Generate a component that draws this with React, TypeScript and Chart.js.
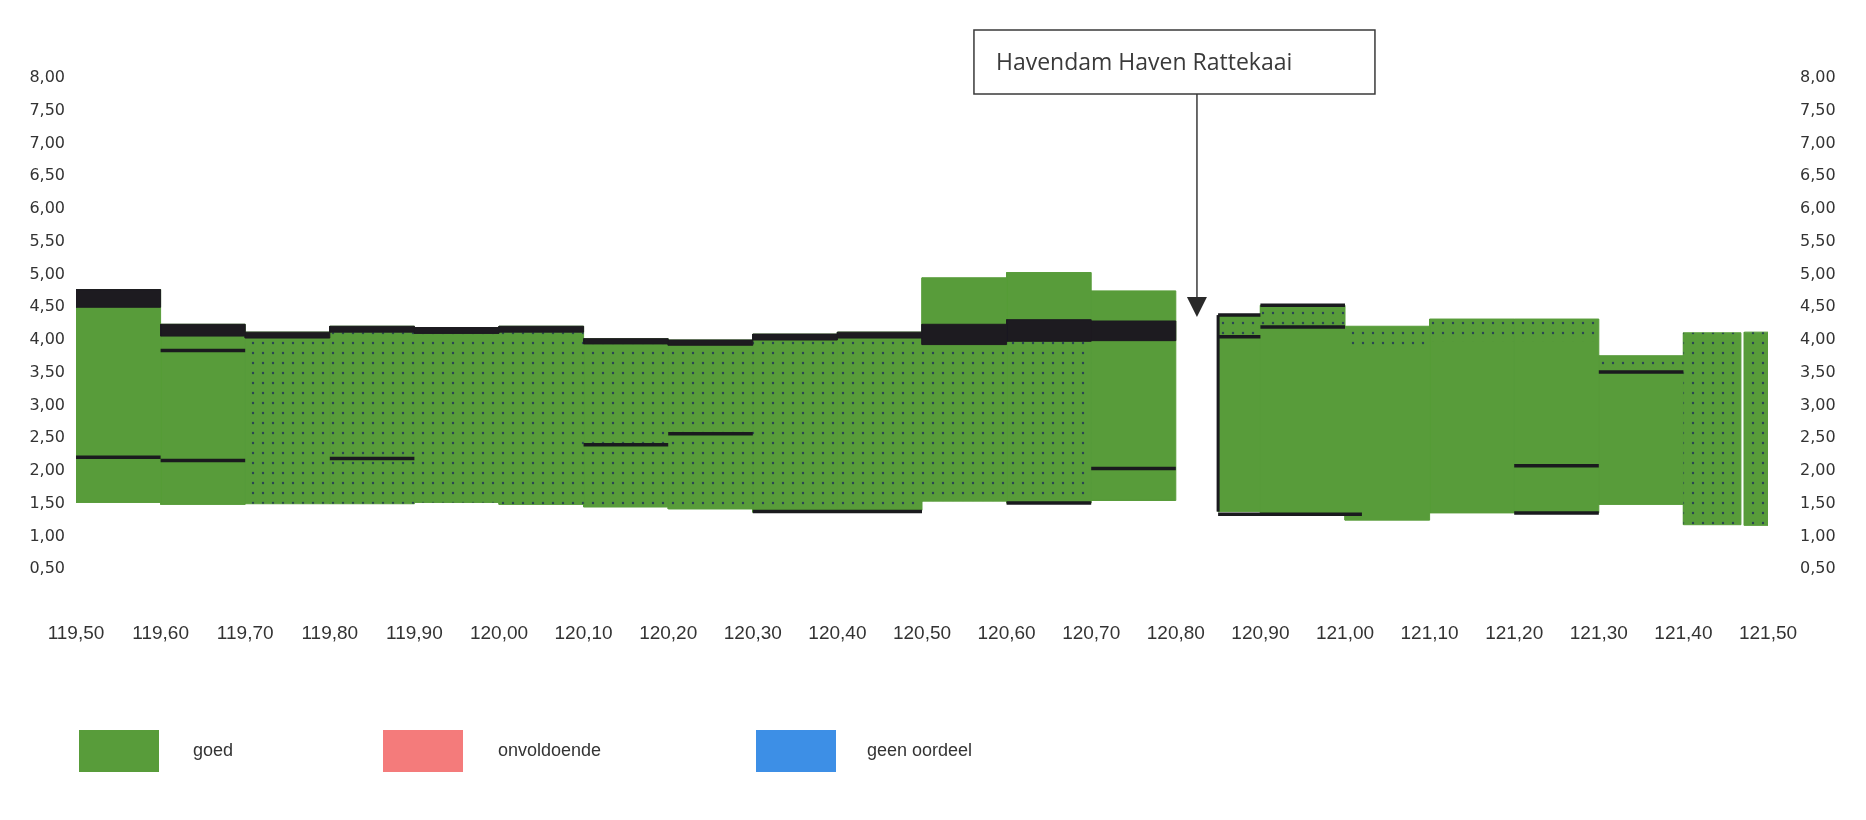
import React, { useEffect, useRef } from 'react';
import { Chart, registerables } from 'chart.js';

Chart.register(...registerables);

// ---- data (km = hectometre position, levels in m) ----
const xTicks = [119.5, 119.6, 119.7, 119.8, 119.9, 120.0, 120.1, 120.2, 120.3, 120.4, 120.5, 120.6, 120.7, 120.8, 120.9, 121.0, 121.1, 121.2, 121.3, 121.4, 121.5];

const segStart = [119.50, 119.60, 119.70, 119.80, 119.90, 120.00, 120.10, 120.20, 120.30, 120.40, 120.50, 120.60, 120.70, 120.85, 120.90, 121.00, 121.10, 121.20, 121.30, 121.40, 121.472];
const segEnd = [119.60, 119.70, 119.80, 119.90, 120.00, 120.10, 120.20, 120.30, 120.40, 120.50, 120.60, 120.70, 120.80, 120.90, 121.00, 121.10, 121.20, 121.30, 121.40, 121.468, 121.50];
const segBottom = [1.52, 1.49, 1.50, 1.50, 1.52, 1.49, 1.45, 1.42, 1.37, 1.40, 1.54, 1.51, 1.55, 1.38, 1.35, 1.25, 1.36, 1.36, 1.49, 1.18, 1.17];
const segTop = [4.77, 4.24, 4.12, 4.21, 4.19, 4.21, 4.02, 4.00, 4.09, 4.12, 4.95, 5.03, 4.75, 4.38, 4.53, 4.21, 4.32, 4.32, 3.76, 4.11, 4.12];

// dark band (black layer)
const bandLow: (number | null)[] = [4.50, 4.06, 4.03, 4.12, 4.10, 4.12, 3.94, 3.92, 4.00, 4.03, 3.93, 3.98, 3.99, null, null, null, null, null, null, null, null];
const bandHigh: (number | null)[] = [4.77, 4.24, 4.12, 4.21, 4.19, 4.21, 4.02, 4.00, 4.09, 4.12, 4.24, 4.31, 4.29, null, null, null, null, null, null, null, null];

// dotted layer
const dotLow: (number | null)[] = [null, null, 1.50, 1.50, 1.52, 1.49, 1.45, 1.42, 1.37, 1.40, 1.54, 1.51, null, 4.05, 4.20, 3.85, 3.98, 3.98, 3.51, 1.18, 1.17];
const dotHigh: (number | null)[] = [null, null, 4.03, 4.12, 4.10, 4.12, 3.94, 3.92, 4.00, 4.03, 3.93, 3.98, null, 4.38, 4.53, 4.21, 4.32, 4.32, 3.76, 4.11, 4.12];

// black horizontal marker lines
const lineStart = [119.50, 119.60, 119.60, 119.80, 120.10, 120.20, 120.70, 120.85, 120.90, 121.20, 121.30, 120.30, 120.60, 120.85, 121.20, 120.85, 120.90];
const lineEnd = [119.60, 119.70, 119.70, 119.90, 120.20, 120.30, 120.80, 120.90, 121.00, 121.30, 121.40, 120.50, 120.70, 121.02, 121.30, 120.90, 121.00];
const lineLevel = [2.21, 2.16, 3.84, 2.19, 2.40, 2.57, 2.04, 4.05, 4.20, 2.08, 3.51, 1.38, 1.51, 1.34, 1.36, 4.38, 4.53];

// vertical edge line
const edgeX = [120.85];
const edgeLow = [1.38];
const edgeHigh = [4.38];

const annotationText = 'Havendam Haven Rattekaai';
const arrowX = 120.825;
const arrowY = 4.35;

const legendLabels = ['goed', 'onvoldoende', 'geen oordeel'];
const legendColors = ['#589c3a', '#f47b7b', '#3d8fe6'];

const GREEN = '#589c3a';
const BAND = '#1d1b20';
const LINE = '#1a1a1e';

const fmt = (v: number) => v.toFixed(2).replace('.', ',');

function rect(x0: number, x1: number, y0: number, y1: number) {
  return [
    { x: x0, y: y0 },
    { x: x1, y: y0 },
    { x: x1, y: y1 },
    { x: x0, y: y1 },
    { x: x0, y: y0 },
  ];
}

const annotationPlugin = {
  id: 'annot',
  afterDatasetsDraw(chart: any) {
    const ctx = chart.ctx;
    const xs = chart.scales.x;
    const ys = chart.scales.y;
    const ax = xs.getPixelForValue(arrowX);
    const ay = ys.getPixelForValue(arrowY);
    const left = ax - 223;
    const top = 22;
    const w = 401;
    const h = 64;
    ctx.save();
    ctx.fillStyle = '#ffffff';
    ctx.fillRect(left, top, w, h);
    ctx.strokeStyle = '#3a3a3a';
    ctx.lineWidth = 1.5;
    ctx.strokeRect(left, top, w, h);
    ctx.fillStyle = '#3a3a3a';
    ctx.font = '23px "Open Sans", sans-serif';
    ctx.textBaseline = 'middle';
    ctx.textAlign = 'left';
    ctx.fillText(annotationText, left + 22, top + h / 2 + 1);
    ctx.beginPath();
    ctx.moveTo(ax, top + h);
    ctx.lineTo(ax, ay - 18);
    ctx.lineWidth = 1.5;
    ctx.stroke();
    ctx.beginPath();
    ctx.moveTo(ax - 10, ay - 20);
    ctx.lineTo(ax + 10, ay - 20);
    ctx.lineTo(ax, ay);
    ctx.closePath();
    ctx.fillStyle = '#2a2a2a';
    ctx.fill();
    ctx.restore();
  },
};

export default function App() {
  const ref = useRef<HTMLCanvasElement>(null);

  useEffect(() => {
    const canvas = ref.current!;
    const pc = document.createElement('canvas');
    pc.width = 10;
    pc.height = 10;
    const pctx = pc.getContext('2d')!;
    pctx.fillStyle = 'rgba(35,60,85,0.9)';
    pctx.beginPath();
    pctx.arc(5, 5, 1.2, 0, Math.PI * 2);
    pctx.fill();
    const pattern = canvas.getContext('2d')!.createPattern(pc, 'repeat')!;

    const base = { pointRadius: 0, pointHoverRadius: 0, tension: 0, fill: 'shape' };
    const datasets: any[] = [];
    segStart.forEach((s, i) => {
      datasets.push({
        ...base,
        label: 'goed',
        data: rect(s, segEnd[i], segBottom[i], segTop[i]),
        backgroundColor: GREEN,
        borderColor: GREEN,
        borderWidth: 1,
        order: 5,
      });
      if (dotLow[i] != null && dotHigh[i] != null) {
        datasets.push({
          ...base,
          label: 'dots',
          data: rect(s, segEnd[i], dotLow[i] as number, dotHigh[i] as number),
          backgroundColor: pattern,
          borderColor: 'rgba(0,0,0,0)',
          borderWidth: 1,
          order: 4,
        });
      }
      if (bandLow[i] != null && bandHigh[i] != null) {
        datasets.push({
          ...base,
          label: 'band',
          data: rect(s, segEnd[i], bandLow[i] as number, bandHigh[i] as number),
          backgroundColor: BAND,
          borderColor: BAND,
          borderWidth: 1,
          order: 3,
        });
      }
    });
    lineStart.forEach((s, i) => {
      datasets.push({
        label: 'line',
        data: [
          { x: s, y: lineLevel[i] },
          { x: lineEnd[i], y: lineLevel[i] },
        ],
        borderColor: LINE,
        borderWidth: 3.5,
        pointRadius: 0,
        fill: false,
        order: 1,
      });
    });
    edgeX.forEach((x, i) => {
      datasets.push({
        label: 'edge',
        data: [
          { x, y: edgeLow[i] },
          { x, y: edgeHigh[i] },
        ],
        borderColor: LINE,
        borderWidth: 3,
        pointRadius: 0,
        fill: false,
        order: 1,
      });
    });

    const yTickFont = { family: '"DejaVu Sans", sans-serif', size: 16 };
    const chart = new Chart(canvas, {
      type: 'line',
      data: { datasets },
      plugins: [annotationPlugin],
      options: {
        animation: false,
        responsive: false,
        events: [],
        layout: { padding: { top: 70, left: 0, right: 0, bottom: 0 } },
        plugins: {
          legend: { display: false },
          tooltip: { enabled: false },
        },
        scales: {
          x: {
            type: 'linear',
            min: 119.5,
            max: 121.5,
            afterBuildTicks: (scale: any) => {
              scale.ticks = xTicks.map((v) => ({ value: v }));
            },
            afterFit: (scale: any) => {
              scale.height = 210;
            },
            grid: { display: false, drawTicks: false },
            border: { display: false },
            ticks: {
              autoSkip: false,
              maxRotation: 0,
              minRotation: 0,
              padding: 20,
              color: '#333',
              font: { family: '"Liberation Sans", Arial, sans-serif', size: 19 },
              callback: (v: any) => fmt(Number(v)),
            },
          },
          y: {
            type: 'linear',
            position: 'left',
            min: 0,
            max: 8,
            afterFit: (scale: any) => {
              scale.width = 68;
            },
            grid: { display: false, drawTicks: false },
            border: { display: false },
            ticks: {
              stepSize: 0.5,
              padding: 11,
              color: '#333',
              font: yTickFont,
              callback: (v: any) => (Number(v) === 0 ? '' : fmt(Number(v))),
            },
          },
          y2: {
            type: 'linear',
            position: 'right',
            min: 0,
            max: 8,
            afterFit: (scale: any) => {
              scale.width = 90;
            },
            grid: { display: false, drawTicks: false },
            border: { display: false },
            ticks: {
              stepSize: 0.5,
              padding: 32,
              color: '#333',
              font: yTickFont,
              callback: (v: any) => (Number(v) === 0 ? '' : fmt(Number(v))),
            },
          },
        },
      } as any,
    });
    return () => chart.destroy();
  }, []);

  const legendBoxLeft = [71, 375, 748];
  const legendTextLeft = [185, 490, 859];

  return (
    <div style={{ position: 'relative', width: 1850, height: 804 }}>
      <canvas ref={ref} width={1850} height={804} style={{ display: 'block' }} />
      {legendLabels.map((lab, i) => (
        <React.Fragment key={lab}>
          <div
            style={{
              position: 'absolute',
              left: legendBoxLeft[i],
              top: 722,
              width: 80,
              height: 42,
              background: legendColors[i],
            }}
          />
          <div
            style={{
              position: 'absolute',
              left: legendTextLeft[i],
              top: 731,
              fontFamily: '"Liberation Sans", Arial, sans-serif',
              fontSize: 18,
              lineHeight: '22px',
              color: '#333',
            }}
          >
            {lab}
          </div>
        </React.Fragment>
      ))}
    </div>
  );
}
